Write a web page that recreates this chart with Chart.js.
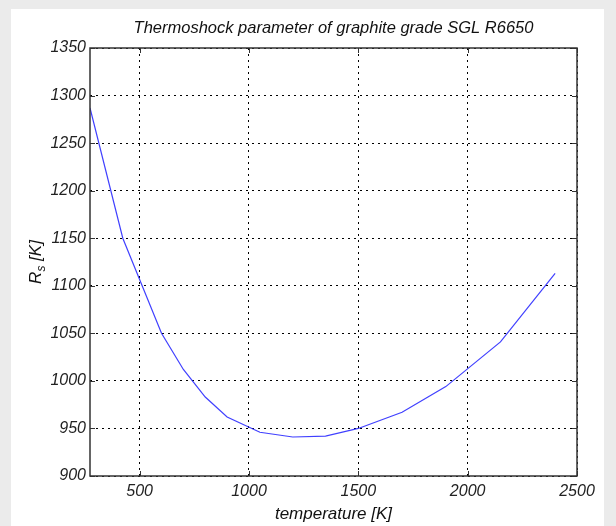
<!DOCTYPE html>
<html>
<head>
<meta charset="utf-8">
<script src="https://cdn.jsdelivr.net/npm/chart.js@4"></script>
<style>
  html, body { margin: 0; padding: 0; background: #ebebeb; }
  #panel { position: absolute; left: 11px; top: 9px; width: 593px; height: 517px; background: #fff; }
  #wrap { position: absolute; left: 0; top: 0; width: 616px; height: 526px; }
</style>
</head>
<body>
<div id="panel"></div>
<div id="wrap"><canvas id="rs" width="616" height="526"></canvas></div>
<script>
// thermoshock parameter R_s vs temperature, SGL R6650
const temperature = [273, 423, 600, 700, 800, 900, 1050, 1200, 1350, 1500, 1700, 1900, 2150, 2400];
const rs_values  = [1287, 1150, 1050, 1012, 983, 962, 946, 941, 942, 950, 967, 994, 1041, 1113];
const x_ticks = [500, 1000, 1500, 2000, 2500];
const y_min = 900, y_max = 1350, y_step = 50;

const FAMILY = 'Liberation Sans, Arial, sans-serif';
const tick_font = { family: FAMILY, size: 16, style: 'italic' };

// box, inward ticks, title and the y label with its subscript
const matlabAxes = {
  id: 'matlabAxes',
  afterDraw(chart) {
    const ctx = chart.ctx;
    const a = chart.chartArea;
    const xs = chart.scales.x, ys = chart.scales.y;
    ctx.save();
    ctx.strokeStyle = '#333';
    ctx.lineWidth = 1;
    ctx.beginPath();
    x_ticks.forEach(v => {
      const px = Math.round(xs.getPixelForValue(v)) + 0.5;
      ctx.moveTo(px, a.bottom); ctx.lineTo(px, a.bottom - 5);
      ctx.moveTo(px, a.top); ctx.lineTo(px, a.top + 5);
    });
    for (let v = y_min; v <= y_max; v += y_step) {
      const py = Math.round(ys.getPixelForValue(v)) + 0.5;
      ctx.moveTo(a.left, py); ctx.lineTo(a.left + 5, py);
      ctx.moveTo(a.right, py); ctx.lineTo(a.right - 5, py);
    }
    ctx.stroke();
    ctx.lineWidth = 1.5;
    ctx.strokeRect(a.left, a.top, a.right - a.left, a.bottom - a.top);

    ctx.fillStyle = '#111';
    ctx.font = 'italic 16.5px ' + FAMILY;
    ctx.textAlign = 'center';
    ctx.textBaseline = 'middle';
    ctx.fillText('Thermoshock parameter of graphite grade SGL R6650', (a.left + a.right) / 2, 28);
    ctx.font = 'italic 17px ' + FAMILY;
    ctx.fillText('temperature [K]', (a.left + a.right) / 2, 514);

    // rotated y label: R, subscript s, [K]
    ctx.translate(36, (a.top + a.bottom) / 2);
    ctx.rotate(-Math.PI / 2);
    ctx.textAlign = 'left';
    ctx.textBaseline = 'middle';
    const big = 'italic 17px ' + FAMILY;
    const small = 'italic 12px ' + FAMILY;
    ctx.font = big;
    const wR = ctx.measureText('R').width;
    const wK = ctx.measureText(' [K]').width;
    ctx.font = small;
    const wS = ctx.measureText('s').width;
    let x0 = -(wR + wS + wK) / 2;
    ctx.font = big;
    ctx.fillText('R', x0, 0);
    ctx.font = small;
    ctx.fillText('s', x0 + wR, 6);
    ctx.font = big;
    ctx.fillText(' [K]', x0 + wR + wS, 0);
    ctx.restore();
  }
};

new Chart(document.getElementById('rs'), {
  type: 'line',
  data: {
    datasets: [{
      data: temperature.map((t, i) => ({ x: t, y: rs_values[i] })),
      borderColor: 'rgba(30,30,255,0.85)',
      borderWidth: 1.2,
      pointRadius: 0,
      tension: 0,
      fill: false
    }]
  },
  options: {
    responsive: false,
    animation: false,
    events: [],
    layout: { padding: { top: 48, right: 39, left: 0, bottom: 0 } },
    plugins: { legend: { display: false }, tooltip: { enabled: false } },
    scales: {
      x: {
        type: 'linear',
        min: temperature[0],
        max: 2500,
        afterBuildTicks: s => { s.ticks = x_ticks.map(v => ({ value: v })); },
        afterFit: s => { s.height = 50; },
        ticks: { color: '#222', font: tick_font, padding: 6, maxRotation: 0, callback: v => String(v) },
        grid: { color: '#000', lineWidth: 1, drawTicks: false },
        border: { display: false, dash: [2, 4] }
      },
      y: {
        min: y_min,
        max: y_max,
        afterFit: s => { s.width = 90; },
        ticks: { stepSize: y_step, color: '#222', font: tick_font, padding: 4, callback: v => String(v) },
        grid: { color: '#000', lineWidth: 1, drawTicks: false },
        border: { display: false, dash: [2, 4] }
      }
    }
  },
  plugins: [matlabAxes]
});
</script>
</body>
</html>
